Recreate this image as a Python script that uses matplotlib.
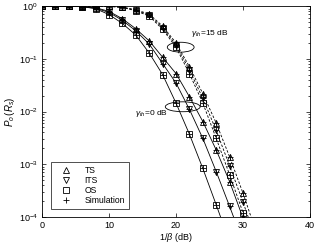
import numpy as np
import matplotlib
matplotlib.use("Agg")
import matplotlib.pyplot as plt
from matplotlib.patches import Ellipse

plt.rcParams['font.family'] = ['Liberation Sans', 'DejaVu Sans']
plt.rcParams['mathtext.fontset'] = 'custom'
plt.rcParams['mathtext.rm'] = 'Liberation Sans'
plt.rcParams['mathtext.it'] = 'Liberation Sans:italic'

# 1/beta (dB)
x_solid = [0, 2, 4, 6, 8, 10, 12, 14, 16, 18, 20, 22, 24, 26, 28, 30, 32]
x_dash = [0, 2, 4, 6, 8, 10, 12, 14, 16, 18, 20, 22, 24, 26, 28, 30, 32]

# log10 of outage probability, gamma_th = 0 dB
ts_0 = [0, 0, 0, -0.01, -0.03, -0.10, -0.24, -0.43, -0.66, -0.97, -1.28, -1.72, -2.19, -2.73, -3.33, -4.02, -4.70]
its_0 = [0, 0, 0, -0.01, -0.04, -0.12, -0.27, -0.47, -0.72, -1.09, -1.46, -1.96, -2.51, -3.14, -3.80, -4.48, -5.10]
os_0 = [0, 0, 0, -0.01, -0.05, -0.16, -0.33, -0.55, -0.89, -1.30, -1.84, -2.43, -3.08, -3.77, -4.48, -5.20, -5.90]

# gamma_th = 15 dB
ts_15 = [0, 0, 0, 0, 0, -0.005, -0.02, -0.07, -0.15, -0.38, -0.70, -1.15, -1.66, -2.22, -2.86, -3.55, -4.30]
its_15 = [0, 0, 0, 0, 0, -0.005, -0.02, -0.08, -0.17, -0.41, -0.74, -1.21, -1.75, -2.36, -3.03, -3.72, -4.45]
os_15 = [0, 0, 0, 0, 0, -0.005, -0.025, -0.09, -0.19, -0.44, -0.78, -1.28, -1.84, -2.51, -3.20, -3.92, -4.65]

fig = plt.figure(figsize=(3.16, 2.44), dpi=100)
ax = fig.add_axes([0.133, 0.111, 0.848, 0.864])

mk = dict(color='black', lw=0.6, ms=3.8, mew=0.6, fillstyle='none')
for vals, m in [(ts_0, '^'), (its_0, 'v'), (os_0, 's')]:
    p = 10 ** np.array(vals)
    ax.plot(x_solid, p, ls='-', marker=m, **mk)
    ax.plot(x_solid, p, ls='none', marker='+', color='black', ms=4.5, mew=0.6)
for vals, m in [(ts_15, '^'), (its_15, 'v'), (os_15, 's')]:
    p = 10 ** np.array(vals)
    ax.plot(x_dash, p, ls=(0, (3, 2)), marker=m, **mk)
    ax.plot(x_dash, p, ls='none', marker='+', color='black', ms=4.5, mew=0.6)

ax.set_yscale('log')
ax.set_xlim(0, 40)
ax.set_ylim(1e-4, 1)
ax.set_xticks([0, 10, 20, 30, 40])
ax.tick_params(which='both', direction='in', top=True, right=True, labelsize=6.5,
               width=0.5, pad=3)
ax.tick_params(which='major', length=3)
ax.tick_params(which='minor', length=1.5)
for s in ax.spines.values():
    s.set_linewidth(0.6)

ax.set_xlabel(r'$1/\beta$ (dB)', fontsize=6.5, labelpad=1)
ax.set_ylabel(r'$P_o\,(R_s)$', fontsize=7, labelpad=1)

# annotations
ax.add_patch(Ellipse((0.5175, 0.805), 0.10, 0.047, transform=ax.transAxes,
                     fill=False, ec='black', lw=0.6))
ax.text(0.555, 0.87, r'$\gamma_{th}$=15 dB', transform=ax.transAxes, fontsize=6,
        va='center', ha='left')
ax.add_patch(Ellipse((0.525, 0.5225), 0.13, 0.047, transform=ax.transAxes,
                     fill=False, ec='black', lw=0.6))
ax.text(0.47, 0.49, r'$\gamma_{th}$=0 dB', transform=ax.transAxes, fontsize=6,
        va='center', ha='right')

# legend
handles = [ax.plot([], [], ls='none', marker=m, color='black', ms=4, mew=0.6,
                   fillstyle='none')[0] for m in ['^', 'v', 's', '+']]
leg = ax.legend(handles, ['TS', 'ITS', 'OS', 'Simulation'], loc='lower left',
                bbox_to_anchor=(0.034, 0.038), fontsize=6.2, frameon=True,
                fancybox=False, edgecolor='black', borderaxespad=0,
                handletextpad=0.9, labelspacing=0.12, borderpad=0.45,
                handlelength=2.5, numpoints=1)
leg.get_frame().set_linewidth(0.6)

fig.savefig('out.png', dpi=100)
